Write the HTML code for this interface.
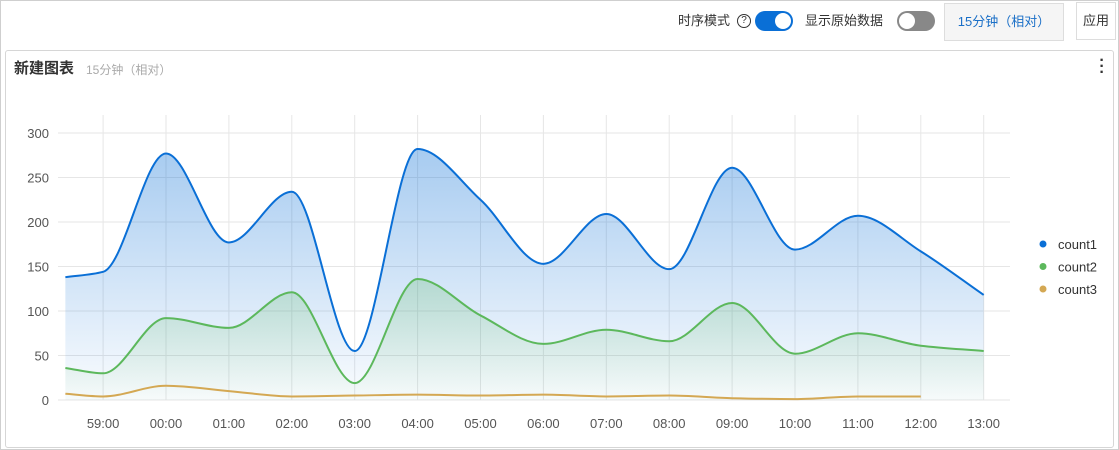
<!DOCTYPE html>
<html><head><meta charset="utf-8"><style>
body{margin:0;width:1119px;height:450px;overflow:hidden;background:#fff;font-family:"Liberation Sans","Noto Sans CJK SC",sans-serif;}
.frame{position:absolute;left:0;top:0;width:1117px;height:448px;border:1px solid #cfcfcf;}
.t{position:absolute;font-size:13px;color:#333;white-space:nowrap;line-height:16px}
.sw{position:absolute;width:38px;height:20px;border-radius:10px}
.knob{position:absolute;top:2px;width:16px;height:16px;border-radius:50%;background:#fff}
.panel{position:absolute;left:5px;top:50px;width:1107px;height:396px;border:1px solid #d6d6d6;border-radius:3px}
</style></head><body>
<div class="frame"></div>
<span class="t" style="left:678px;top:13px">时序模式</span>
<span class="t" style="left:737px;top:14px;width:12px;height:12px;border:1px solid #333;border-radius:50%;font-size:10px;text-align:center;line-height:12px">?</span>
<div class="sw" style="left:755px;top:11px;background:#0a6fd6"><div class="knob" style="left:20px"></div></div>
<span class="t" style="left:805px;top:13px">显示原始数据</span>
<div class="sw" style="left:897px;top:11px;background:#888"><div class="knob" style="left:2px"></div></div>
<div style="position:absolute;left:944px;top:3px;width:118px;height:36px;border:1px solid #ddd;background:#f5f5f5;color:#1a6fc7;font-size:13px;line-height:36px;text-align:center">15分钟（相对）</div>
<div style="position:absolute;left:1076px;top:2px;width:38px;height:36px;border:1px solid #ddd;background:#fff;font-size:13px;line-height:36px;text-align:center;color:#333">应用</div>
<div class="panel"></div>
<span class="t" style="left:14px;top:61px;font-size:15px;font-weight:bold;color:#333">新建图表</span>
<span class="t" style="left:86px;top:62px;font-size:12px;color:#aaa">15分钟（相对）</span>
<span class="t" style="left:1099px;top:58px;font-size:16px;font-weight:bold;line-height:6px;width:6px;text-align:center">·<br>·<br>·</span>
<svg id="c" width="1119" height="450" style="position:absolute;left:0;top:0">
<defs>
<linearGradient id="g1" x1="0" y1="0" x2="0" y2="1"><stop offset="0" stop-color="#0a6fd6" stop-opacity="0.36"/><stop offset="1" stop-color="#0a6fd6" stop-opacity="0.02"/></linearGradient>
<linearGradient id="g2" x1="0" y1="0" x2="0" y2="1"><stop offset="0" stop-color="#5cb85c" stop-opacity="0.25"/><stop offset="1" stop-color="#5cb85c" stop-opacity="0.02"/></linearGradient>
</defs>
</svg>
<script>
const hours=[-1.6,-1,0,1,2,3,4,5,6,7,8,9,10,11,12,13];
const xTickLabels=["59:00","00:00","01:00","02:00","03:00","04:00","05:00","06:00","07:00","08:00","09:00","10:00","11:00","12:00","13:00"];
const xTickHours=[-1,0,1,2,3,4,5,6,7,8,9,10,11,12,13];
const yTicks=[0,50,100,150,200,250,300];
const count1=[138,144,277,177,234,55,282,225,153,209,147,261,169,207,167,118];
const count2=[36,30,92,81,121,19,136,95,63,79,66,109,52,75,61,55];
const count3=[7,4,16,10,4,5,6,5,6,4,5,2,1,4,4,null];
const seriesNames=["count1","count2","count3"];
const colors=["#0a6fd6","#5cb85c","#d4a853"];
const svg=document.getElementById('c');const NS="http://www.w3.org/2000/svg";
const X=h=>166+h*62.9, Y=v=>400-v*0.89;
function el(t,a){const e=document.createElementNS(NS,t);for(const k in a)e.setAttribute(k,a[k]);svg.appendChild(e);return e;}
yTicks.forEach(v=>{const l=el('line',{x1:58,x2:1010,y1:Y(v),y2:Y(v),stroke:'#e6e6e6'});


const t=el('text',{x:49,y:Y(v)+5,'text-anchor':'end','font-size':13,fill:'#555'});t.textContent=v;

});
xTickHours.forEach((h,i)=>{const l=el('line',{x1:X(h),x2:X(h),y1:115,y2:400,stroke:'#e6e6e6'});


const t=el('text',{x:X(h),y:428,'text-anchor':'middle','font-size':13,fill:'#555'});t.textContent=xTickLabels[i];

});
function path(vals){const p=[];hours.forEach((h,i)=>{if(vals[i]!=null)p.push([X(h),Y(vals[i])]);});
const n=p.length,dl=[],m=[];
for(let i=0;i<n-1;i++)dl.push((p[i+1][1]-p[i][1])/(p[i+1][0]-p[i][0]));
for(let i=0;i<n;i++){if(i==0)m.push(dl[0]);else if(i==n-1)m.push(dl[n-2]);else if(dl[i-1]*dl[i]<=0)m.push(0);else{const a=dl[i-1],b=dl[i];m.push(2/(1/a+1/b));}}
let d=`M${p[0][0]},${p[0][1]}`;
for(let i=0;i<n-1;i++){const h=(p[i+1][0]-p[i][0])/3;
d+=`C${p[i][0]+h},${p[i][1]+m[i]*h} ${p[i+1][0]-h},${p[i+1][1]-m[i+1]*h} ${p[i+1][0]},${p[i+1][1]}`;}
return {d,first:p[0],last:p[n-1]};}
[count1,count2,count3].forEach((vals,s)=>{const r=path(vals);
if(s<2){const a=el('path',{d:r.d+`L${r.last[0]},400L${r.first[0]},400Z`,fill:`url(#g${s+1})`});

}
const l=el('path',{d:r.d,fill:'none',stroke:colors[s],'stroke-width':2});


const c=el('circle',{cx:1043,cy:244+s*22.5,r:3.5,fill:colors[s]});


const t=el('text',{x:1058,y:249+s*22.5,'font-size':13,fill:'#333'});t.textContent=seriesNames[s];

});
</script>
</body></html>
